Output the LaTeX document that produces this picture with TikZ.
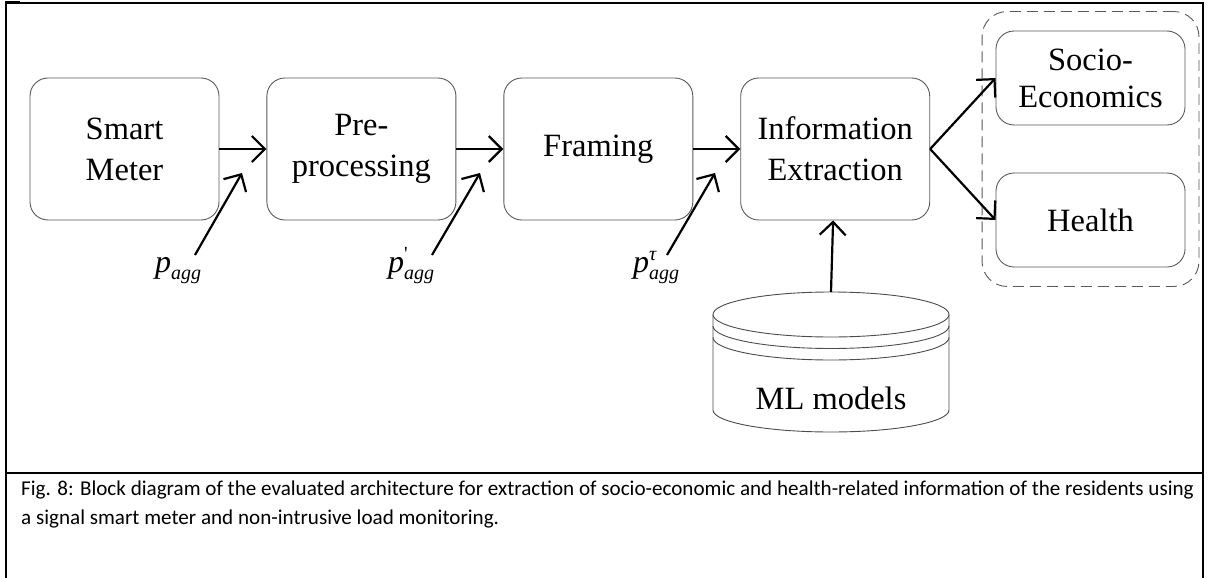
\documentclass[tikz,border=0pt]{standalone}
\usepackage{fontspec}
\setmainfont{Liberation Serif}
\newfontfamily\capfont{Carlito}
\usetikzlibrary{arrows.meta,positioning,fit}

\tikzset{
  block/.style={draw=black!65, line width=0.9pt, rounded corners=18pt,
    minimum width=189pt, minimum height=142pt, align=center, inner sep=0pt,
    font=\fontsize{32.5}{41}\selectfont},
  outbox/.style={block, minimum height=94pt, font=\fontsize{32.5}{37}\selectfont},
  arr/.style={line width=2.2pt, -{Straight Barb[length=13pt,width=26pt]}},
  sigvar/.style={inner sep=0pt, anchor=base west, font=\fontsize{32}{38}\selectfont\itshape},
  frameline/.style={line width=2pt, black},
  captext/.style={anchor=base west, inner sep=0pt, font=\capfont\fontsize{21.1}{21}\selectfont},
}

% p with a small superscript and the subscript agg
\newcommand{\psig}[1]{p\rlap{\raisebox{12pt}{\fontsize{20}{20}\selectfont #1}}\raisebox{-7pt}{\fontsize{20}{20}\selectfont agg}}

\begin{document}
\begin{tikzpicture}[x=1pt, y=-1pt]
    \useasboundingbox (0,0) rectangle (1208,578);

    % frame of the figure
    \draw[line width=1.4pt] (5,3) -- (1204,3);
    \draw[line width=3pt] (5,3) -- (20,3);
    \draw[frameline, line width=2.6pt] (6,2) -- (6,578);
    \draw[frameline] (1203,2) -- (1203,578);
    \draw[frameline] (5,473) -- (1204,473);

    % processing chain
    \node[block] (meter) at (124.5,149) {Smart\\Meter};
    \node[block, right=47pt of meter] (prep) {Pre-\\processing};
    \node[block, right=47pt of prep] (framing) {Framing};
    \node[block, right=47pt of framing] (extract) {Information\\Extraction};

    % outputs
    \node[outbox] (socio) at (1090.5,78) {Socio-\\Economics};
    \node[outbox] (health) at (1090.5,220) {Health};
    \node[draw=black!65, line width=0.9pt, dash pattern=on 11pt off 6pt,
      rounded corners=25pt, inner xsep=13.5pt, inner ysep=19pt,
      fit=(socio)(health)] (outputs) {};

    % model store
    \def\cx{831}
    \def\rx{118}
    \draw[black!70, line width=0.9pt] (\cx-\rx,314.5) -- (\cx-\rx,410)
      arc[start angle=180, end angle=360, x radius=\rx, y radius=-22] -- (\cx+\rx,314.5);
    \draw[black!70, line width=0.9pt, fill=white] (\cx,314.5) ellipse[x radius=\rx, y radius=22.5];
    \foreach \yy in {326,337.5}
      \draw[black!70, line width=0.9pt] (\cx-\rx,\yy) arc[start angle=180, end angle=360, x radius=\rx, y radius=-22.5];
    \node[inner sep=0pt, font=\fontsize{32.5}{38}\selectfont] (models) at (\cx,398) {ML models};
    \coordinate (dbtop) at (\cx,292);

    % signals
    \node[sigvar] (sig1) at (155,272) {\psig{}};
    \node[sigvar] (sig2) at (388,272) {\psig{\upshape\textquotesingle}};
    \node[sigvar] (sig3) at (633,272) {\psig{τ}};
    \coordinate (s1) at (195,255);
    \coordinate (s2) at (432,255);
    \coordinate (s3) at (667,255);
    \coordinate (e1) at (242,173);
    \coordinate (e2) at (480,173);
    \coordinate (e3) at (715,173);

    % connectors
    \draw[arr] (meter) -- (prep);
    \draw[arr] (prep) -- (framing);
    \draw[arr] (framing) -- (extract);
    \draw[arr] (s1) -- (e1);
    \draw[arr] (s2) -- (e2);
    \draw[arr] (s3) -- (e3);
    \draw[arr] (extract.east) -- (socio.west);
    \draw[arr] (extract.east) -- (health.west);
    \draw[arr] (dbtop) -- (extract);

    % caption
    \node[captext] (cap1) at (21,495)
      {Fig. 8: Block diagram of the evaluated architecture for extraction of socio-economic and health-related information of the residents using};
    \node[captext] (cap2) at (21,524)
      {a signal smart meter and non-intrusive load monitoring.};
\end{tikzpicture}
\end{document}
